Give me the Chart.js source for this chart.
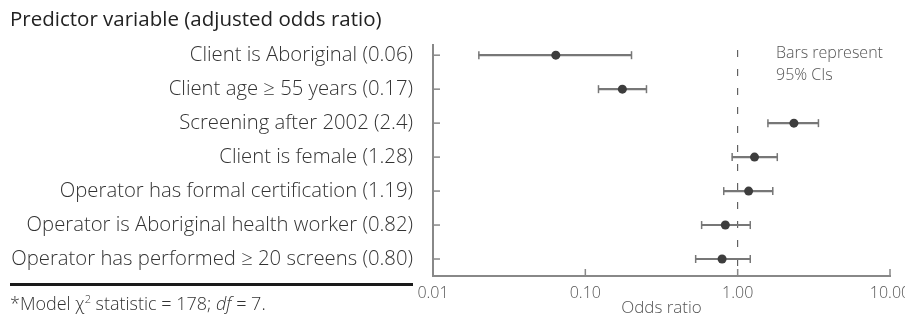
<!DOCTYPE html>
<html>
<head>
<meta charset="utf-8">
<script src="https://cdn.jsdelivr.net/npm/chart.js@4.4.0/dist/chart.umd.min.js"></script>
<style>
  html, body { margin: 0; padding: 0; background: #fff; overflow: hidden; }
  #wrap { position: relative; width: 905px; height: 318px; font-family: "Open Sans", sans-serif; }
  #note { position: absolute; left: 776px; top: 41px; font-size: 16px; line-height: 22px; color: #555; font-weight: 300; }
  #rule { position: absolute; left: 10px; top: 283px; width: 403px; height: 3px; background: #1a1a1a; }
  #foot { position: absolute; left: 10px; top: 289px; font-size: 18px; line-height: 20px; color: #333; font-weight: 300; white-space: nowrap; }
  #foot sup { font-size: 11px; }
</style>
</head>
<body>
<div id="wrap">
  <canvas id="forestChart" width="905" height="318"></canvas>
  <div id="note">Bars represent<br>95% CIs</div>
  <div id="rule"></div>
  <div id="foot">*Model &chi;<sup>2</sup> statistic = 178; <i>df</i> = 7.</div>
</div>
<script>
const categories = [
  'Client is Aboriginal (0.06)',
  'Client age \u2265 55 years (0.17)',
  'Screening after 2002 (2.4)',
  'Client is female (1.28)',
  'Operator has formal certification (1.19)',
  'Operator is Aboriginal health worker (0.82)',
  'Operator has performed \u2265 20 screens (0.80)'
];
const oddsRatios = [0.064, 0.175, 2.34, 1.29, 1.18, 0.83, 0.79];
const ciLower = [0.020, 0.122, 1.58, 0.92, 0.81, 0.58, 0.53];
const ciUpper = [0.201, 0.252, 3.39, 1.82, 1.70, 1.21, 1.21];
const xTickValues = [0.01, 0.1, 1, 10];
const referenceLine = 1;

Chart.defaults.font.family = '"Open Sans", sans-serif';

// short tick marks pointing into the plot
const innerTicks = {
  id: 'innerTicks',
  afterDraw(chart) {
    const ctx = chart.ctx;
    const xs = chart.scales.x, ys = chart.scales.y;
    const area = chart.chartArea;
    ctx.save();
    ctx.strokeStyle = '#888';
    ctx.lineWidth = 1.5;
    ys.ticks.forEach(t => {
      const py = ys.getPixelForValue(t.value);
      ctx.beginPath();
      ctx.moveTo(area.left, py);
      ctx.lineTo(area.left + 7, py);
      ctx.stroke();
    });
    xs.ticks.forEach(t => {
      const px = xs.getPixelForValue(t.value);
      ctx.beginPath();
      ctx.moveTo(px, area.bottom);
      ctx.lineTo(px, area.bottom - 7);
      ctx.stroke();
    });
    ctx.restore();
  }
};

const ctx = document.getElementById('forestChart').getContext('2d');
new Chart(ctx, {
  type: 'scatter',
  data: {
    datasets: [{
      label: 'Odds ratio',
      data: oddsRatios.map((v, i) => ({x: v, y: i})),
      pointRadius: 4.5,
      backgroundColor: '#3d3d3d',
      borderWidth: 0,
      order: 0
    }, {
      label: 'CI caps',
      data: ciLower.map((v, i) => ({x: v, y: i})).concat(ciUpper.map((v, i) => ({x: v, y: i}))),
      pointStyle: 'line',
      rotation: 90,
      pointRadius: 4,
      borderColor: '#777',
      borderWidth: 1.5,
      order: 1
    }, {
      type: 'bar',
      label: '95% CI',
      indexAxis: 'y',
      data: ciLower.map((v, i) => ({x: [v, ciUpper[i]], y: i})),
      backgroundColor: '#777',
      borderWidth: 0,
      barThickness: 1.5,
      order: 2
    }, {
      label: 'Reference',
      data: [{x: referenceLine, y: -0.3}, {x: referenceLine, y: 6.5}],
      showLine: true,
      borderColor: '#444',
      borderWidth: 1,
      borderDash: [7, 12],
      borderDashOffset: 14,
      pointRadius: 0,
      order: 3
    }]
  },
  options: {
    responsive: false,
    animation: false,
    layout: { padding: { left: 10, right: 0, top: 0, bottom: 0 } },
    plugins: {
      legend: { display: false },
      tooltip: { enabled: false },
      title: {
        display: true,
        text: 'Predictor variable (adjusted odds ratio)',
        align: 'start',
        color: '#222',
        font: { size: 20.5, weight: 500 },
        padding: { top: 8, bottom: 12.4 }
      }
    },
    scales: {
      x: {
        type: 'logarithmic',
        min: 0.01,
        max: 10,
        afterBuildTicks: scale => { scale.ticks = xTickValues.map(v => ({value: v})); },
        afterFit: scale => { scale.height = 42; scale.paddingRight = 15; },
        ticks: {
          padding: 8,
          color: '#555',
          font: { size: 16, weight: 300 },
          callback: v => Number(v).toFixed(2)
        },
        grid: { display: false, drawTicks: false },
        border: { display: true, color: '#888', width: 2 },
        title: {
          display: true,
          text: 'Odds ratio',
          color: '#555',
          font: { size: 17, weight: 300 },
          padding: { top: -10, bottom: 0 }
        }
      },
      y: {
        type: 'linear',
        reverse: true,
        offset: false,
        min: -0.3,
        max: 6.5,
        afterBuildTicks: scale => { scale.ticks = categories.map((c, i) => ({value: i})); },
        afterFit: scale => { scale.width = 423; scale.paddingTop = 0; scale.paddingBottom = 0; },
        ticks: {
          padding: 20,
          color: '#333',
          font: { size: 20.3, weight: 300 },
          callback: v => categories[v]
        },
        grid: { display: false, drawTicks: false },
        border: { display: true, color: '#888', width: 2 }
      }
    }
  },
  plugins: [innerTicks]
});
</script>
</body>
</html>
